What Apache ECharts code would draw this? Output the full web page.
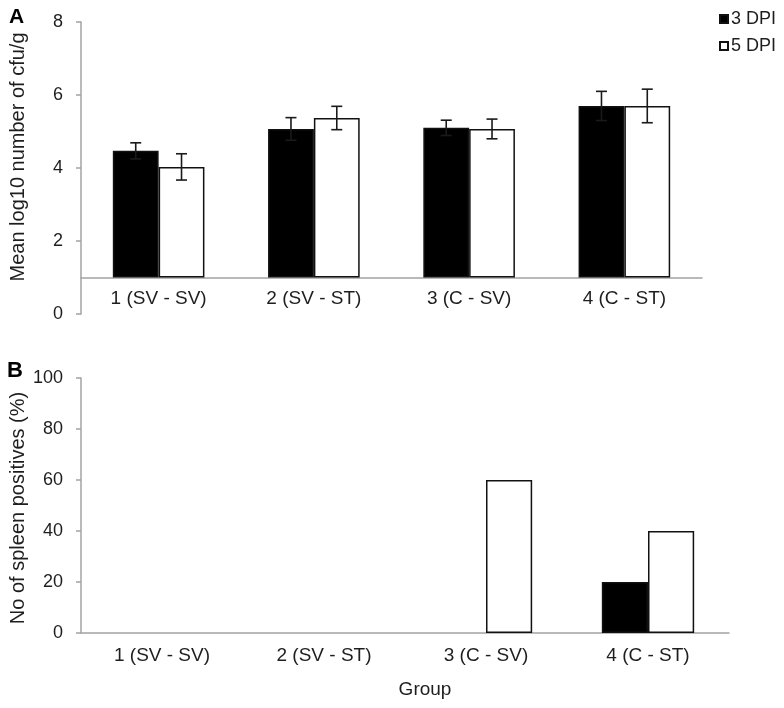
<!DOCTYPE html>
<html>
<head>
<meta charset="utf-8">
<script src="https://cdn.jsdelivr.net/npm/echarts@6/dist/echarts.min.js"></script>
<style>html,body{margin:0;padding:0;background:#fff}#c{width:784px;height:708px}</style>
</head>
<body>
<div id="c"></div>
<script>
// ---- data ----
var categories = ['1 (SV - SV)', '2 (SV - ST)', '3 (C - SV)', '4 (C - ST)'];
var seriesNames = ['3 DPI', '5 DPI'];
var cfuMean3 = [4.47, 5.07, 5.10, 5.70];
var cfuErr3  = [0.22, 0.31, 0.21, 0.40];
var cfuMean5 = [4.03, 5.37, 5.07, 5.70];
var cfuErr5  = [0.36, 0.32, 0.27, 0.46];
var spleen3  = [0, 0, 0, 20];
var spleen5  = [0, 0, 60, 40];
var cfuTicks = [0, 8, 2];      // min, max, interval
var spleenTicks = [0, 100, 20];

var FONT = '"Liberation Sans", Arial, sans-serif';
var AXIS = '#a3a3a3';
var TXT = '#1e1e1e';
var GAP_A = 0.41, GAP_B = 0.43;

var chart = echarts.init(document.getElementById('c'), null, {renderer: 'canvas'});

function errSeries(name, means, errs, side) {
  return {
    type: 'custom', name: name, xAxisIndex: 1, yAxisIndex: 1, z: 5,
    data: means.map(function (m, i) { return [i, m, errs[i]]; }),
    encode: {x: 0, y: 1},
    clip: false,
    renderItem: function (params, api) {
      var i = api.value(0), m = api.value(1), e = api.value(2);
      var catW = api.size([1, 0])[0];
      var barW = catW * (1 - GAP_A) / 2;
      var c = api.coord([i, m]);
      var x = c[0] + side * barW / 2;
      var top = api.coord([i, m + e])[1];
      var bot = api.coord([i, m - e])[1];
      var cap = 5.5;
      var st = {stroke: '#1a1a1a', lineWidth: 1.6};
      return {type: 'group', children: [
        {type: 'line', shape: {x1: x, y1: top, x2: x, y2: bot}, style: st},
        {type: 'line', shape: {x1: x - cap, y1: top, x2: x + cap, y2: top}, style: st},
        {type: 'line', shape: {x1: x - cap, y1: bot, x2: x + cap, y2: bot}, style: st}
      ]};
    }
  };
}

function zeroless(vals) {
  return vals.map(function (v) { return v === 0 ? {value: v, itemStyle: {borderWidth: 0}} : v; });
}

var style3 = {color: '#000', borderColor: '#111', borderWidth: 1.5};
var style5 = {color: '#fff', borderColor: '#111', borderWidth: 1.5};

var yLbl = {color: TXT, fontFamily: FONT, fontSize: 18};
var xLbl = {color: TXT, fontFamily: FONT, fontSize: 19};

var option = {
  animation: false,
  backgroundColor: '#fff',
  textStyle: {fontFamily: FONT},
  legend: {
    data: seriesNames, orient: 'vertical', left: 714, top: 5,
    itemWidth: 8, itemHeight: 8, itemGap: 9, icon: 'rect',
    textStyle: {color: TXT, fontFamily: FONT, fontSize: 18, padding: [0, 0, 0, -2]}
  },
  grid: [
    {left: 81, right: 82, top: 22, bottom: 394},
    {left: 81, right: 82, top: 22, bottom: 430.5},
    {left: 81, right: 55, top: 378, bottom: 75}
  ],
  xAxis: [
    {type: 'category', gridIndex: 0, data: categories, show: false},
    {type: 'category', gridIndex: 1, data: categories,
     axisLine: {onZero: false, lineStyle: {color: AXIS, width: 1.5}},
     axisTick: {length: 6, lineStyle: {color: AXIS, width: 1.5}},
     axisLabel: Object.assign({margin: 12}, xLbl)},
    {type: 'category', gridIndex: 2, data: categories,
     axisLine: {lineStyle: {color: AXIS, width: 1.5}},
     axisTick: {length: 6, lineStyle: {color: AXIS, width: 1.5}},
     axisLabel: Object.assign({margin: 13}, xLbl)}
  ],
  yAxis: [
    {type: 'value', gridIndex: 0, min: cfuTicks[0], max: cfuTicks[1], interval: cfuTicks[2],
     axisLine: {show: true, lineStyle: {color: AXIS, width: 1.5}},
     axisTick: {show: true, length: 5, lineStyle: {color: AXIS, width: 1.5}},
     splitLine: {show: false},
     axisLabel: Object.assign({margin: 18}, yLbl)},
    {type: 'value', gridIndex: 1, min: 1, max: cfuTicks[1], startValue: 1, show: false,
     splitLine: {show: false}},
    {type: 'value', gridIndex: 2, min: spleenTicks[0], max: spleenTicks[1], interval: spleenTicks[2],
     axisLine: {show: true, lineStyle: {color: AXIS, width: 1.5}},
     axisTick: {show: true, length: 5, lineStyle: {color: AXIS, width: 1.5}},
     splitLine: {show: false},
     axisLabel: Object.assign({margin: 18}, yLbl)}
  ],
  series: [
    {type: 'bar', name: seriesNames[0], xAxisIndex: 1, yAxisIndex: 1, data: cfuMean3,
     barGap: '0%', barCategoryGap: (GAP_A * 100) + '%', itemStyle: style3, clip: true},
    {type: 'bar', name: seriesNames[1], xAxisIndex: 1, yAxisIndex: 1, data: cfuMean5,
     barGap: '0%', barCategoryGap: (GAP_A * 100) + '%', itemStyle: style5, clip: true},
    errSeries(seriesNames[0], cfuMean3, cfuErr3, -1),
    errSeries(seriesNames[1], cfuMean5, cfuErr5, 1),
    {type: 'bar', name: seriesNames[0], xAxisIndex: 2, yAxisIndex: 2, data: zeroless(spleen3),
     barGap: '0%', barCategoryGap: (GAP_B * 100) + '%', itemStyle: style3},
    {type: 'bar', name: seriesNames[1], xAxisIndex: 2, yAxisIndex: 2, data: zeroless(spleen5),
     barGap: '0%', barCategoryGap: (GAP_B * 100) + '%', itemStyle: style5}
  ],
  graphic: [
    {type: 'text', x: 9, y: 7, style: {text: 'A', font: 'bold 21px ' + FONT, fill: '#000'}},
    {type: 'text', x: 7, y: 360, style: {text: 'B', font: 'bold 22px ' + FONT, fill: '#000'}},
    {type: 'text', x: 18, y: 157, rotation: Math.PI / 2,
     style: {text: 'Mean log10 number of cfu/g', font: '20px ' + FONT, fill: TXT,
             textAlign: 'center', textVerticalAlign: 'middle'}},
    {type: 'text', x: 18, y: 508, rotation: Math.PI / 2,
     style: {text: 'No of spleen positives (%)', font: '20px ' + FONT, fill: TXT,
             textAlign: 'center', textVerticalAlign: 'middle'}},
    {type: 'text', x: 425, y: 690,
     style: {text: 'Group', font: '19px ' + FONT, fill: TXT,
             textAlign: 'center', textVerticalAlign: 'middle'}}
  ]
};
chart.setOption(option);
</script>
</body>
</html>
